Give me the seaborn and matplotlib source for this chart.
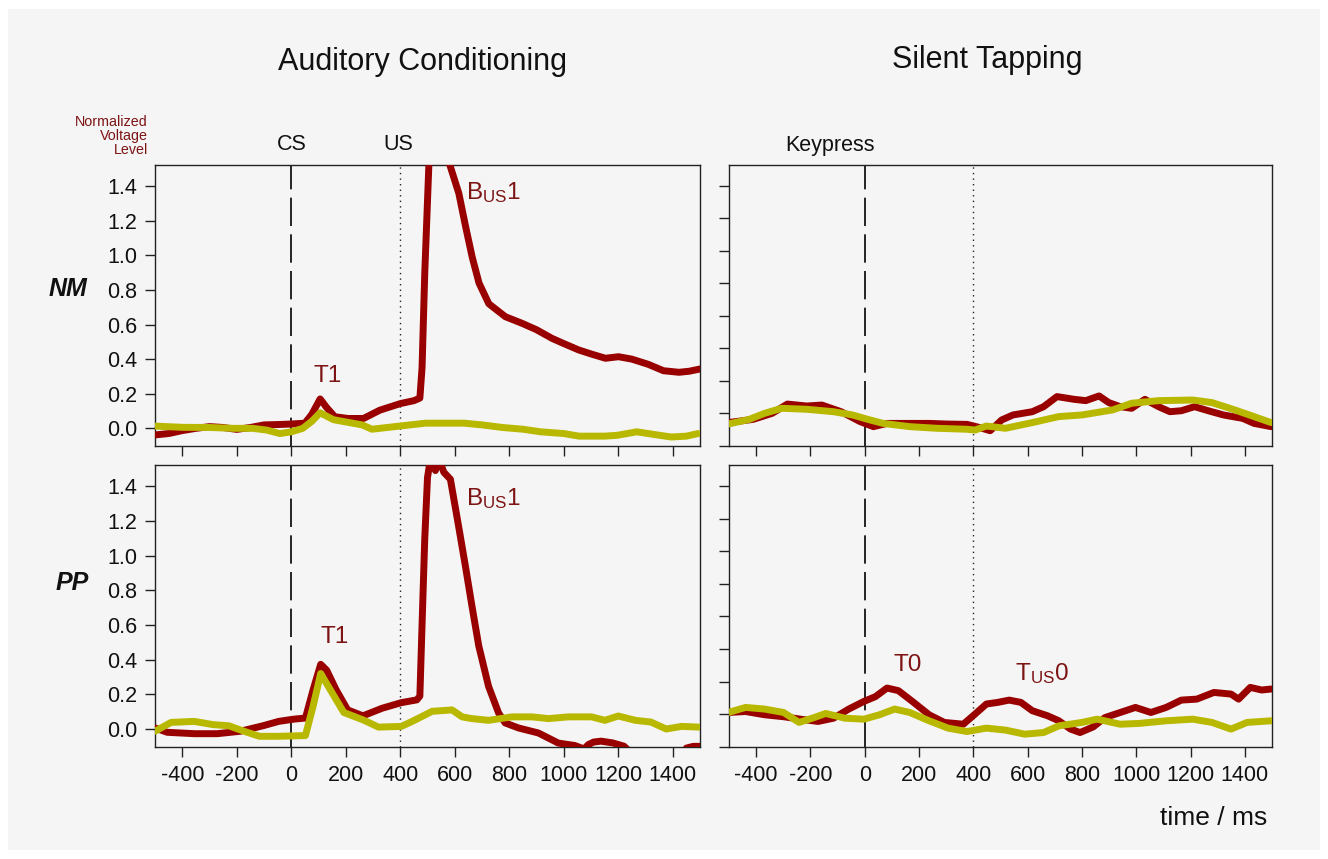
import numpy as np
import pandas as pd
import matplotlib
matplotlib.use("Agg")
import matplotlib.pyplot as plt
from matplotlib.patches import Rectangle
import seaborn as sns

# ---------------- data ----------------
ac_nm_red_t = [-500,-450,-400,-350,-300,-250,-200,-150,-100,-50,0,50,75,106,130,160,210,265,325,400,450,472,480,490,505,515,570,582,615,640,664,689,725,786,847,900,957,1000,1055,1100,1153,1201,1250,1310,1366,1423,1460,1500]
ac_nm_red_v = [-0.038,-0.03,-0.013,0.0,0.01,0.005,-0.006,0.005,0.02,0.022,0.025,0.03,0.08,0.17,0.12,0.067,0.057,0.057,0.105,0.143,0.16,0.175,0.35,0.9,1.522,1.6,1.6,1.522,1.358,1.165,0.99,0.84,0.72,0.645,0.607,0.57,0.52,0.49,0.453,0.43,0.405,0.414,0.40,0.37,0.333,0.324,0.33,0.343]
ac_nm_yel_t = [-500,-400,-300,-211,-141,-90,-42,0,42,75,106,155,225,260,296,380,493,634,700,775,850,915,1000,1056,1150,1197,1268,1330,1394,1450,1493]
ac_nm_yel_v = [0.013,0.006,0.005,0.0,0.0,-0.01,-0.03,-0.02,0.0,0.04,0.09,0.05,0.03,0.02,-0.005,0.01,0.03,0.03,0.02,0.005,-0.005,-0.02,-0.03,-0.045,-0.045,-0.04,-0.02,-0.035,-0.05,-0.045,-0.03]

st_nm_red_t = [-503,-411,-341,-285,-214,-158,-87,-17,32,82,166,237,307,377,420,462,504,546,617,659,708,772,814,863,899,941,983,1032,1082,1124,1166,1215,1265,1321,1392,1434,1497]
st_nm_red_v = [-0.056,-0.036,0.001,0.058,0.046,0.052,0.011,-0.05,-0.081,-0.061,-0.061,-0.061,-0.065,-0.067,-0.085,-0.106,-0.04,-0.009,0.011,0.042,0.104,0.087,0.079,0.108,0.067,0.042,0.032,0.087,0.042,0.011,0.017,0.042,0.017,-0.009,-0.03,-0.061,-0.081]
st_nm_yel_t = [-503,-425,-369,-306,-214,-115,-45,11,68,166,265,377,406,448,518,617,715,800,913,983,1082,1208,1279,1363,1497]
st_nm_yel_v = [-0.065,-0.036,0.001,0.032,0.026,0.011,-0.009,-0.036,-0.061,-0.081,-0.091,-0.097,-0.102,-0.077,-0.091,-0.056,-0.019,-0.009,0.022,0.063,0.079,0.083,0.067,0.022,-0.056]

ac_pp_red_t = [-500,-455,-356,-272,-187,-103,-46,10,52,80,108,130,165,207,263,334,404,461,472,480,490,500,511,529,541,560,584,614,639,663,688,724,761,785,834,907,980,1040,1075,1090,1110,1137,1179,1221,1235,1260,1430,1450,1475,1500]
ac_pp_red_v = [0.006,-0.019,-0.027,-0.027,-0.013,0.019,0.044,0.057,0.063,0.225,0.373,0.339,0.225,0.11,0.076,0.12,0.152,0.168,0.19,0.6,1.1,1.45,1.56,1.49,1.56,1.48,1.44,1.17,0.94,0.71,0.48,0.246,0.092,0.035,0.006,-0.023,-0.081,-0.095,-0.115,-0.09,-0.075,-0.07,-0.08,-0.099,-0.12,-0.2,-0.2,-0.11,-0.1,-0.1]
ac_pp_yel_t = [-500,-441,-356,-286,-230,-173,-117,-46,52,80,108,151,193,263,320,404,444,517,590,627,663,724,810,883,944,1017,1102,1151,1200,1263,1320,1376,1432,1496]
ac_pp_yel_v = [-0.013,0.038,0.044,0.025,0.019,-0.013,-0.042,-0.042,-0.038,0.13,0.32,0.206,0.095,0.053,0.011,0.015,0.044,0.102,0.11,0.07,0.06,0.05,0.07,0.07,0.06,0.07,0.07,0.05,0.075,0.05,0.04,0.0,0.015,0.011]

st_pp_red_t = [-503,-439,-369,-299,-228,-172,-115,-59,-3,39,82,124,180,237,293,363,406,448,490,532,575,617,673,715,758,793,842,885,941,997,1054,1110,1166,1223,1286,1349,1377,1420,1462,1497]
st_pp_red_v = [0.01,0.016,-0.004,-0.016,-0.033,-0.045,-0.025,0.031,0.078,0.107,0.16,0.144,0.072,-0.004,-0.051,-0.062,0.0,0.062,0.072,0.086,0.072,0.021,-0.01,-0.041,-0.092,-0.113,-0.078,-0.021,0.01,0.041,0.01,0.041,0.086,0.092,0.133,0.123,0.092,0.164,0.148,0.154]
st_pp_yel_t = [-503,-439,-369,-299,-242,-186,-144,-73,-3,54,110,166,237,307,377,448,518,589,659,715,800,856,941,1011,1110,1208,1279,1349,1408,1497]
st_pp_yel_v = [0.01,0.041,0.031,0.01,-0.051,-0.021,0.004,-0.025,-0.031,-0.004,0.031,0.01,-0.041,-0.086,-0.107,-0.086,-0.098,-0.123,-0.113,-0.072,-0.051,-0.031,-0.062,-0.057,-0.041,-0.031,-0.051,-0.092,-0.051,-0.041]

col_titles = ["Auditory Conditioning", "Silent Tapping"]
row_labels = ["NM", "PP"]
x_ticks = [-400, -200, 0, 200, 400, 600, 800, 1000, 1200, 1400]
y_ticks_left = [0.0, 0.2, 0.4, 0.6, 0.8, 1.0, 1.2, 1.4]
y_ticks_right = [-0.2, 0.0, 0.2, 0.4, 0.6, 0.8, 1.0, 1.2, 1.4]

# ---------------- style ----------------
sns.set_theme(style="ticks")
plt.rcParams["font.family"] = ["Liberation Sans", "DejaVu Sans"]
plt.rcParams["mathtext.fontset"] = "custom"
plt.rcParams["mathtext.rm"] = "Liberation Sans"
plt.rcParams["mathtext.it"] = "Liberation Sans:italic"
plt.rcParams["mathtext.bf"] = "Liberation Sans:bold"

RED = "#990000"
YEL = "#b8b800"
TXT_RED = "#7d1414"
BG = "#f5f5f5"

W, H = 1328, 859
fig = plt.figure(figsize=(W / 100, H / 100), dpi=100, facecolor="white")
fig.patches.append(Rectangle((8 / W, 9 / H), 1312 / W, 841 / H, transform=fig.transFigure,
                             facecolor=BG, edgecolor="none", zorder=-10))

def rect(x0, y0, x1, y1):
    return [x0 / W, 1 - y1 / H, (x1 - x0) / W, (y1 - y0) / H]

ax_tl = fig.add_axes(rect(155, 165, 700, 446))
ax_tr = fig.add_axes(rect(729, 165, 1272, 446))
ax_bl = fig.add_axes(rect(155, 465, 700, 746.7))
ax_br = fig.add_axes(rect(729, 465, 1272, 746.7))

panels = [
    (ax_tl, ac_nm_red_t, ac_nm_red_v, ac_nm_yel_t, ac_nm_yel_v, "left", False),
    (ax_tr, st_nm_red_t, st_nm_red_v, st_nm_yel_t, st_nm_yel_v, "right", False),
    (ax_bl, ac_pp_red_t, ac_pp_red_v, ac_pp_yel_t, ac_pp_yel_v, "left", True),
    (ax_br, st_pp_red_t, st_pp_red_v, st_pp_yel_t, st_pp_yel_v, "right", True),
]

for ax, rt, rv, yt, yv, side, bottom in panels:
    ax.set_facecolor(BG)
    ax.axvline(0, color="black", lw=1.2, linestyle=(0, (17, 5)), zorder=1)
    ax.axvline(400, color="#222222", lw=1.0, linestyle=(0, (1, 3)), zorder=1)
    dfr = pd.DataFrame({"t": rt, "v": rv})
    dfy = pd.DataFrame({"t": yt, "v": yv})
    sns.lineplot(data=dfr, x="t", y="v", ax=ax, color=RED, lw=5,
                 solid_capstyle="round", solid_joinstyle="round", zorder=3)
    sns.lineplot(data=dfy, x="t", y="v", ax=ax, color=YEL, lw=5,
                 solid_capstyle="round", solid_joinstyle="round", zorder=4)
    ax.set_xlim(-500, 1500)
    ax.set_xticks(x_ticks)
    if side == "left":
        ax.set_ylim(-0.102, 1.522)
        ax.set_yticks(y_ticks_left)
        ax.set_yticklabels([f"{v:.1f}" for v in y_ticks_left])
    else:
        ax.set_ylim(-0.2, 1.529)
        ax.set_yticks(y_ticks_right)
        ax.set_yticklabels([])
    if not bottom:
        ax.set_xticklabels([])
    else:
        ax.set_xticklabels([str(v) for v in x_ticks])
    ax.set_xlabel("")
    ax.set_ylabel("")
    for s in ax.spines.values():
        s.set_visible(True)
        s.set_color("#222222")
        s.set_linewidth(1.0)
    ax.tick_params(axis="both", direction="out", length=7, width=1.0, color="#222222",
                   labelsize=15.5, labelcolor="#111111", pad=6)

# panel annotations
ax_tl.text(135, 0.30, "T1", color=TXT_RED, fontsize=17.5, ha="center", va="center")
ax_tl.text(640, 1.36, r"B$_{\mathrm{US}}$1", color=TXT_RED, fontsize=17.5, ha="left", va="center")
ax_bl.text(160, 0.53, "T1", color=TXT_RED, fontsize=17.5, ha="center", va="center")
ax_bl.text(640, 1.33, r"B$_{\mathrm{US}}$1", color=TXT_RED, fontsize=17.5, ha="left", va="center")
ax_br.text(159, 0.30, "T0", color=TXT_RED, fontsize=17.5, ha="center", va="center")
ax_br.text(553, 0.25, r"T$_{\mathrm{US}}$0", color=TXT_RED, fontsize=17.5, ha="left", va="center")

# figure-level text
fig.text(422 / W, 1 - 62 / H, col_titles[0], fontsize=22, ha="center", va="center", color="#111111")
fig.text(987 / W, 1 - 60 / H, col_titles[1], fontsize=22, ha="center", va="center", color="#111111")
fig.text(68 / W, 1 - 289 / H, row_labels[0], fontsize=18, fontweight="bold", fontstyle="italic",
         ha="center", va="center", color="#111111")
fig.text(72 / W, 1 - 583 / H, row_labels[1], fontsize=18, fontweight="bold", fontstyle="italic",
         ha="center", va="center", color="#111111")
fig.text(292 / W, 1 - 145 / H, "CS", fontsize=15.5, ha="center", va="center", color="#111111")
fig.text(398 / W, 1 - 145 / H, "US", fontsize=15.5, ha="center", va="center", color="#111111")
fig.text(830 / W, 1 - 145 / H, "Keypress", fontsize=15.5, ha="center", va="center", color="#111111")
fig.text(148 / W, 1 - 136 / H, "Normalized\nVoltage\nLevel", fontsize=10.3, ha="right", va="center",
         color=TXT_RED, linespacing=1.0)
fig.text(1214 / W, 1 - 818 / H, "time / ms", fontsize=19, ha="center", va="center", color="#111111")

fig.savefig("out.png", dpi=100, facecolor=fig.get_facecolor())
